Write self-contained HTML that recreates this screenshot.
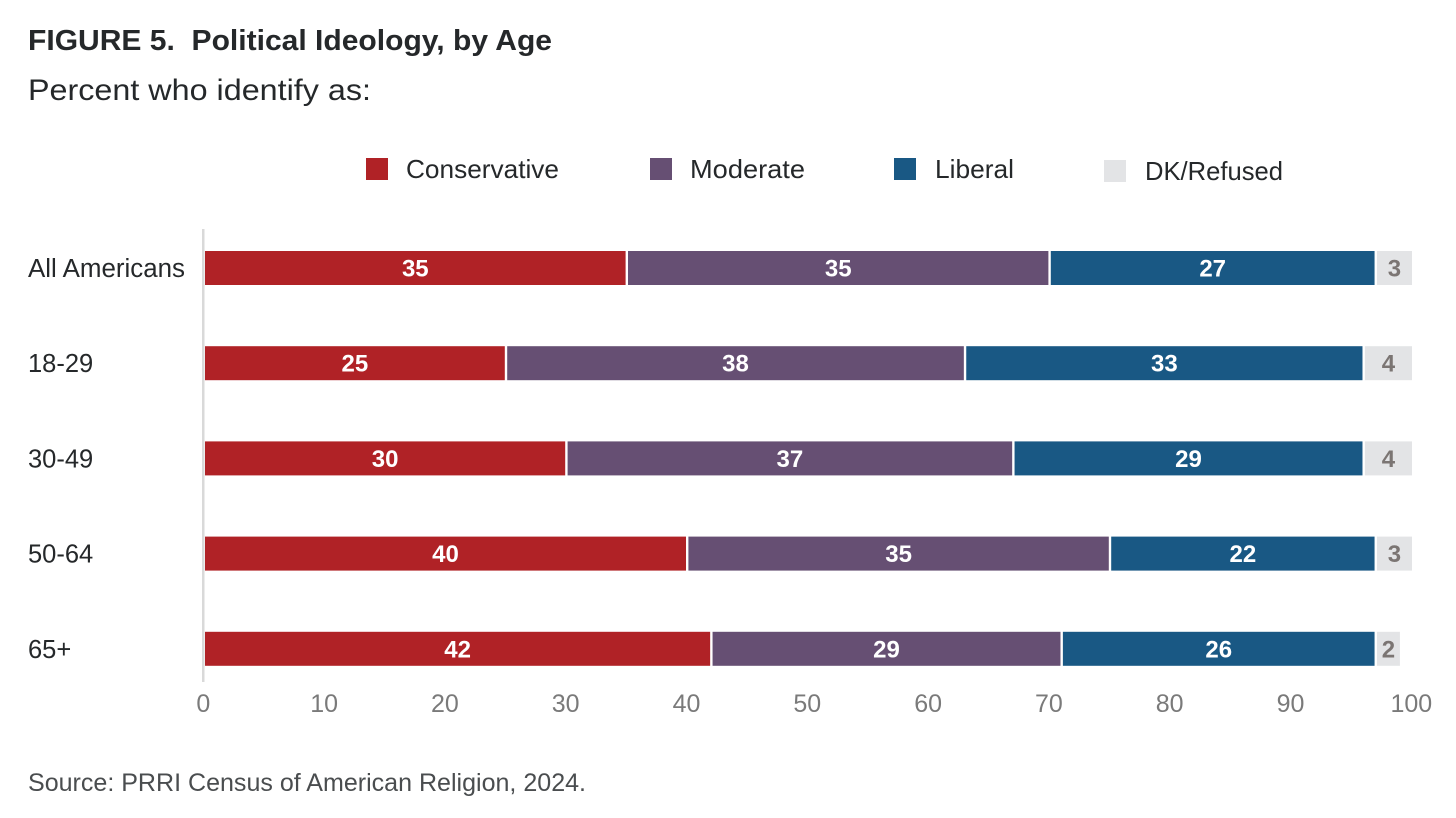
<!DOCTYPE html>
<html lang="en">
<head>
<meta charset="utf-8">
<title>Political Ideology, by Age</title>
<style>
html,body{margin:0;padding:0;background:#fff;width:1456px;height:818px;overflow:hidden}
svg{display:block;font-family:"Liberation Sans",sans-serif}
</style>
</head>
<body>
<svg id="chart" width="1456" height="818" viewBox="0 0 1456 818" xmlns="http://www.w3.org/2000/svg">
  <rect width="1456" height="818" fill="#ffffff"/>
  <text x="28" y="50" font-size="29" font-weight="700" fill="#25282a" textLength="524" lengthAdjust="spacingAndGlyphs" xml:space="preserve">FIGURE 5.  Political Ideology, by Age</text>
  <text x="28" y="100" font-size="30" fill="#25282a" textLength="343" lengthAdjust="spacingAndGlyphs">Percent who identify as:</text>

  <g>
    <rect x="366" y="158" width="22" height="22" fill="#b02226"/>
    <text x="406" y="178" font-size="26" fill="#25282a" textLength="153" lengthAdjust="spacingAndGlyphs">Conservative</text>
    <rect x="650" y="158" width="22" height="22" fill="#664f73"/>
    <text x="690" y="178" font-size="26" fill="#25282a" textLength="115" lengthAdjust="spacingAndGlyphs">Moderate</text>
    <rect x="894" y="158" width="22" height="22" fill="#195884"/>
    <text x="935" y="178" font-size="26" fill="#25282a" textLength="79" lengthAdjust="spacingAndGlyphs">Liberal</text>
    <rect x="1104" y="160" width="22" height="22" fill="#e3e4e6"/>
    <text x="1145" y="180" font-size="26" fill="#25282a" textLength="138" lengthAdjust="spacingAndGlyphs">DK/Refused</text>
  </g>

  <g id="bars"></g>
  <g id="cats"></g>
  <rect x="202" y="229" width="2.5" height="453" fill="#d9d9d9"/>
  <g id="ticks"></g>

  <text x="28" y="791" font-size="25" fill="#4a4d4f" textLength="558" lengthAdjust="spacingAndGlyphs">Source: PRRI Census of American Religion, 2024.</text>
</svg>
<script>
const categories = ["All Americans", "18-29", "30-49", "50-64", "65+"];
const conservative = [35, 25, 30, 40, 42];
const moderate = [35, 38, 37, 35, 29];
const liberal = [27, 33, 29, 22, 26];
const dkRefused = [3, 4, 4, 3, 2];
const tickLabels = [0, 10, 20, 30, 40, 50, 60, 70, 80, 90, 100];

const NS = "http://www.w3.org/2000/svg";
function xScale(v) { return 204 + v * 12.08; }
function yScale(i) { return 251 + i * 95.2; }
const BAR_H = 34;
const GAP = 1.2;

const barsG = document.getElementById("bars");
const catsG = document.getElementById("cats");
const ticksG = document.getElementById("ticks");

const seriesList = [
  { key: "conservative", values: conservative, fill: "#b02226", text: "#ffffff" },
  { key: "moderate", values: moderate, fill: "#664f73", text: "#ffffff" },
  { key: "liberal", values: liberal, fill: "#195884", text: "#ffffff" },
  { key: "dk-refused", values: dkRefused, fill: "#e3e4e6", text: "#7b7573" }
];

categories.forEach(function (cat, i) {
  const label = document.createElementNS(NS, "text");
  
  
  label.setAttribute("x", 28);
  label.setAttribute("y", yScale(i) + 26);
  label.setAttribute("font-size", "25.5");
  label.setAttribute("fill", "#25282a");
  if (i === 0) label.setAttribute("textLength", "157");
  if (i === 0) label.setAttribute("lengthAdjust", "spacingAndGlyphs");
  label.textContent = cat;
  catsG.appendChild(label);

  let cum = 0;
  seriesList.forEach(function (s, si) {
    const v = s.values[i];
    const start = cum;
    const end = cum + v;
    cum = end;
    const x0 = si === 0 ? xScale(0) + 1 : xScale(start) + GAP;
    const x1 = si === seriesList.length - 1 ? xScale(end) : xScale(end) - GAP;

    const rect = document.createElementNS(NS, "rect");
    
    
    rect.setAttribute("x", x0);
    rect.setAttribute("y", yScale(i));
    rect.setAttribute("width", x1 - x0);
    rect.setAttribute("height", BAR_H);
    rect.setAttribute("fill", s.fill);
    barsG.appendChild(rect);

    const val = document.createElementNS(NS, "text");
    
    
    val.setAttribute("x", (x0 + x1) / 2);
    val.setAttribute("y", yScale(i) + 25.5);
    val.setAttribute("text-anchor", "middle");
    val.setAttribute("font-size", "24");
    val.setAttribute("font-weight", "700");
    val.setAttribute("fill", s.text);
    val.textContent = v;
    barsG.appendChild(val);
  });
});

tickLabels.forEach(function (t) {
  const tick = document.createElementNS(NS, "text");
  
  
  tick.setAttribute("x", xScale(t) - 0.7);
  tick.setAttribute("y", 712);
  tick.setAttribute("text-anchor", "middle");
  tick.setAttribute("font-size", "25");
  tick.setAttribute("fill", "#7a7a7a");
  tick.textContent = t;
  ticksG.appendChild(tick);
});
</script>
</body>
</html>
